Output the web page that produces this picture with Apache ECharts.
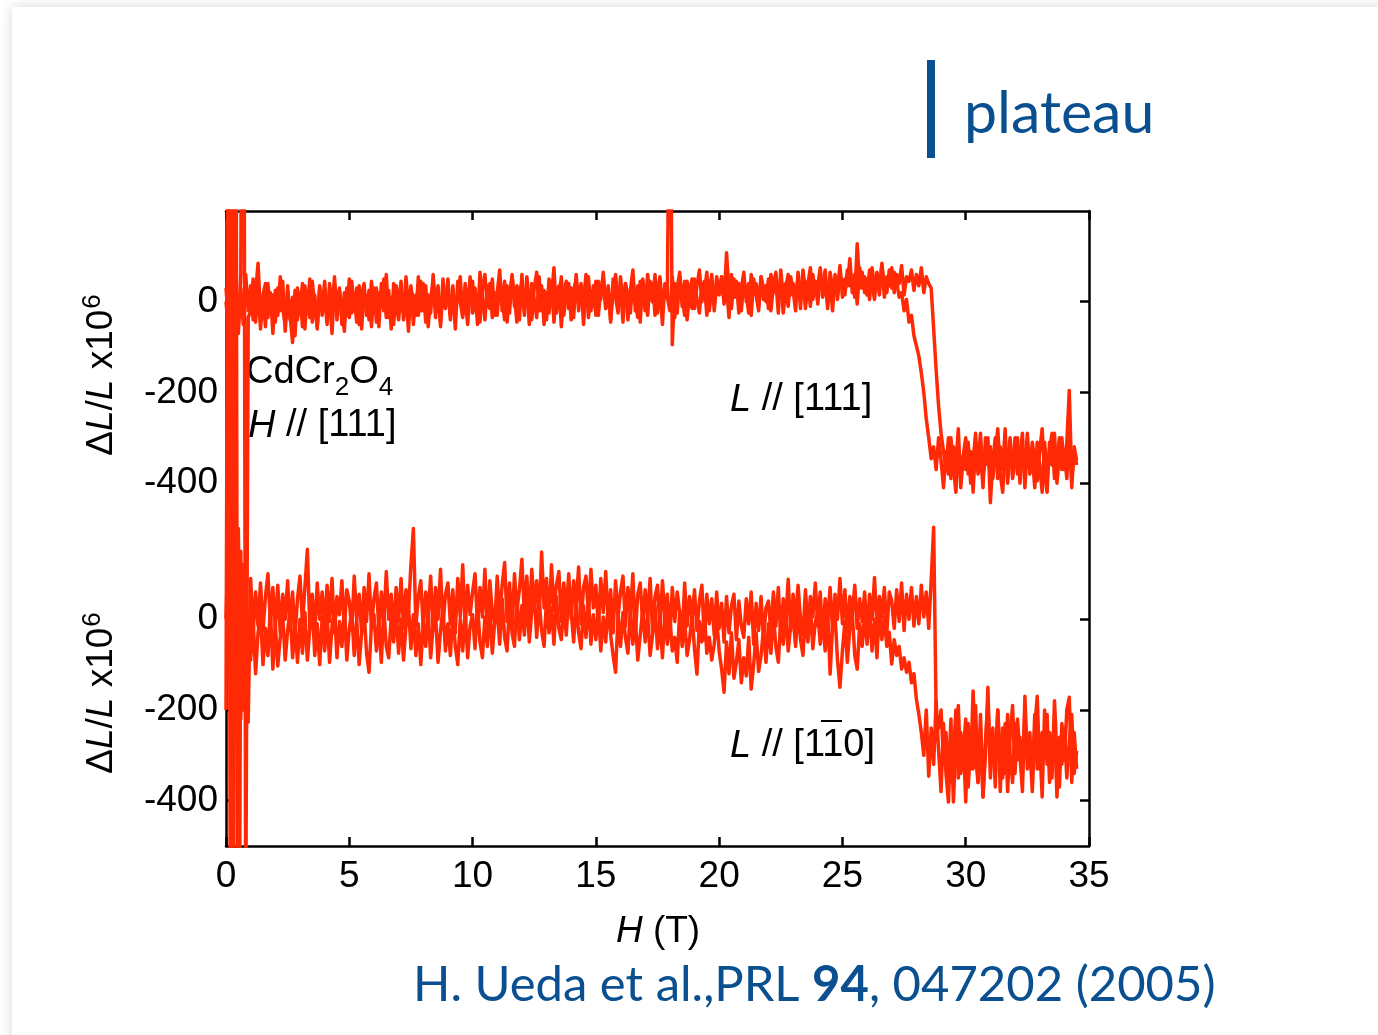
<!DOCTYPE html>
<html>
<head>
<meta charset="utf-8">
<script src="https://cdn.jsdelivr.net/npm/echarts@6/dist/echarts.min.js"></script>
<style>
  html, body { margin: 0; padding: 0; background: #ffffff; overflow: hidden; }
  #slide {
    position: absolute; left: 12px; top: 7px; width: 1400px; height: 1100px;
    background: #ffffff; box-shadow: 0 0 12px rgba(0, 0, 0, 0.16);
  }
  #chart { position: absolute; left: 0; top: 0; width: 1378px; height: 1035px; }
</style>
</head>
<body>
<div id="slide"></div>
<div id="chart"></div>
<script>
// field step of the sampled traces (T); sample i is at H = i * H_STEP
const H_STEP = 0.1
// the L // [111] curve is drawn shifted up by this many units above the L // [1-10] curve
const TOP_OFFSET = 700

// L // [111], sweep with the late drop (~28.6-29.1 T), values in 1e-6
const top111A = [
  0, -60, 1500, -1400, 40, -70, 30, -50, 60, -20,
  35, -40, 20, 85, -30, 10, -55, 40, -25, 15,
  -45, 30, -20, 45, -65, 10, -30, -90, 25, -40,
  20, -55, 35, -15, 50, -45, 15, -60, 30, -20,
  45, -35, 5, -70, 40, -10, 30, -50, 20, -30,
  50, -25, 10, -45, 35, -60, 20, 5, -40, 45,
  -15, 30, -55, 40, -20, 60, -35, 10, -50, 35,
  -5, 45, -40, 20, -65, 30, 5, -30, 55, -20,
  40, -45, 15, -25, 60, -10, 35, -55, 25, -15,
  50, -30, 20, -60, 45, 0, -35, 40, -20, 55,
  -25, 30, -50, 65, 10, -40, 35, -15, 50, -30,
  20, 70, -20, 45, -45, 15, 55, -10, 35, -40,
  60, -15, 30, -50, 40, 5, -35, 55, -20, 25,
  -40, 50, 10, 75, -25, 35, -55, 20, 45, -15,
  30, -35, 60, -5, 40, -50, 25, 55, -20, 35,
  -30, 45, 5, 65, -15, 30, -45, 50, 10, -25,
  55, -10, 40, -40, 25, 70, -20, 35, -45, 50,
  15, -30, 45, 0, 60, -25, 30, -50, 40, 10,
  -20, 55, -35, 30, 65, -10, 45, -40, 20, 50,
  -15, 35, 70, 0, 45, -30, 25, 60, -20, 40,
  15, 55, -5, 35, -35, 60, 10, 45, -25, 30,
  65, 0, 40, -30, 50, 15, -20, 55, 5, 35,
  -15, 60, 20, 45, -25, 70, 10, 40, -10, 55,
  25, -20, 65, 15, 50, -15, 40, 75, 5, 45,
  -5, 55, 30, 70, 0, 45, -20, 60, 25, 80,
  10, 50, 35, 95, 20, 60, -5, 75, 30, 55,
  15, 70, 40, 5, 65, 30, 85, 10, 55, 35,
  75, 20, 60, 40, 80, 15, 55, 45, 70, 25,
  60, 35, 75, 20, 55, 40, 30, -60, -150, -230,
  -290, -330, -370, -300, -390, -320, -360, -280, -410, -340,
  -300, -380, -330, -420, -310, -360, -290, -390, -340, -300,
  -443, -350, -300, -390, -320, -370, -280, -400, -330, -360,
  -300, -380, -340, -290, -410, -320, -370, -310, -350, -395,
  -330, -280, -380, -420, -310, -360, -290, -400, -340, -300,
  -370, -310, -196, -390, -330, -360
]

// L // [111], sweep with the early drop (~27.4-28.5 T)
const top111B = [
  30, -40, 50, -80, 20, -50, 60, 1500, -1400, -35,
  -20, 50, -45, 25, -60, 15, 40, -35, 20, -70,
  25, -30, 55, -15, -50, 35, -40, 10, -75, 30,
  -25, 40, -60, 20, -35, 45, -10, -55, 35, -30,
  15, -50, 40, -20, 55, -40, 25, -15, -65, 30,
  -35, 45, -20, 30, -50, 15, 40, -30, 25, -55,
  30, -45, 20, -10, 50, -35, 25, -60, 40, -5,
  -40, 25, -25, 55, -15, 35, -50, 15, -30, 45,
  -20, 35, -55, 10, 40, -35, 20, -45, 50, -10,
  25, -40, 35, -25, 15, 55, -30, 10, -50, 30,
  45, -20, 15, -45, 30, 60, -10, 40, -35, 20,
  -30, 50, 5, -40, 35, -25, 60, 10, -45, 25,
  40, -30, 55, 0, -40, 30, 65, -20, 35, -50,
  20, -25, 45, -45, 30, 5, 55, -30, 15, 40,
  -40, 25, 50, -20, 35, 0, 60, -35, 20, -10,
  45, -30, 25, 55, -15, 35, -40, 20, 60, -5,
  30, -45, 40, 15, -25, 50, 0, -35, 45, 20,
  -20, 60, 5, 40, -30, 25, 55, -15, 35, 10,
  700, -95, 40, -25, 55, 10, -30, 45, 20, -15,
  50, 5, -25, 40, 15, 65, -20, 30, -5, 55,
  20, 55, 0, 108, 25, -15, 50, 10, 40, -20,
  45, 15, -25, 60, 20, 40, -10, 55, 30, 0,
  50, -20, 35, 65, 5, 45, -25, 30, 60, 15,
  40, 0, 55, -15, 70, 25, 45, -10, 60, 20,
  35, 75, 10, 50, -15, 65, 30, 45, 5, 60,
  40, 15, 70, 35, 55, 10, 128, 30, 65, 20,
  50, 5, 75, 35, 60, 15, 80, 40, 20, 70,
  30, 65, 45, 10, 20, -20, 5, -45, -30, -75,
  -97, -120, -157, -200, -258, -300, -346, -320, -370, -300,
  -350, -410, -330, -380, -300, -360, -420, -320, -390, -340,
  -370, -310, -400, -350, -290, -380, -330, -410, -300, -360,
  -320, -390, -340, -280, -380, -420, -330, -360, -300, -390,
  -350, -300, -400, -330, -370, -290, -380, -340, -410, -310,
  -360, -420, -310, -380, -330, -290, -390, -350, -300, -370,
  -330, -390, -280, -410, -320, -350
]

// L // [1-10], branch that stays up to 28.6 T (with the jump spike)
const low110A = [
  0, 200, -230, 180, 1500, -1500, 150, -200, 120, -227,
  90, -30, 60, -15, 80, -25, 50, 100, -10, 70,
  -20, 75, -30, 55, 0, 85, -25, 60, -35, 45,
  95, -10, 70, 154, -20, 55, -35, 80, 0, 60,
  -15, 75, -5, 90, -30, 50, 10, 85, -20, 65,
  40, -25, 95, 0, 55, -30, 70, -5, 100, -20,
  45, 80, -25, 60, -10, 105, 0, 55, -30, 70,
  -5, 90, -20, 65, 15, 120, 200, -15, 50, 85,
  -20, 60, 10, 95, -25, 70, 0, 110, -15, 55,
  80, -10, 65, -30, 90, 5, 120, -20, 75, 10,
  60, 100, -15, 70, 5, 110, -25, 85, 15, -10,
  95, 0, 75, 125, -5, 80, -20, 100, 20, 65,
  132, 10, 95, -10, 110, 30, 85, 0, 148, 25,
  90, -15, 120, 20, 75, 105, -5, 80, 15, 100,
  0, 85, 30, 115, -10, 70, 95, 10, 110, 25,
  75, -20, 90, 15, 105, -5, 65, -30, 85, 5,
  60, 95, -15, 70, 10, 100, -35, 55, 80, -10,
  65, 0, 90, -30, 50, 75, -20, 85, 5, 55,
  -40, 70, -5, 60, 15, -45, 80, -15, 50, 0,
  65, -25, 40, 75, -45, 55, -10, 45, -35, 60,
  -20, 35, -50, 50, -30, 30, 55, -45, 40, -15,
  -40, 45, -10, 60, -55, 35, -25, 50, -45, 25,
  40, -30, 60, -15, 70, -40, 45, -5, 88, -25,
  55, -10, 75, 0, -35, 65, -20, 50, 5, 80,
  -15, 60, -40, 45, -5, 70, -25, 55, 0, 90,
  -10, 65, -30, 50, 10, 75, -20, 45, -5, 60,
  -35, 55, 0, 92, -15, 50, 5, 70, -30, 60,
  40, -20, 65, -5, 80, -25, 55, 0, 70, -15,
  50, -10, 75, 5, 60, -20, 85, 203, -205, -240,
  -200, -310, -250, -360, -220, -403, -280, -190, -340, -260,
  -403, -230, -330, -158, -300, -360, -210, -392, -270, -180,
  -320, -240, -370, -200, -300, -350, -230, -380, -260, -190,
  -340, -220, -300, -380, -170, -310, -250, -360, -210, -330,
  -270, -392, -200, -320, -250, -350, -180, -300, -370, -230,
  -310, -200, -172, -360, -250, -330
]

// L // [1-10], lower branch with the early drop (~26.9-28.2 T)
const low110B = [
  -200, 1500, -1500, 150, -180, 200, -220, 120, -160, -60,
  -90, 0, -120, -30, 10, -100, -20, -80, 25, -110,
  -10, -103, -40, 10, -90, -25, 20, -85, -15, -95,
  0, -75, 15, -90, -20, 25, -80, -10, -100, 5,
  -70, 10, -95, -15, 20, -85, -5, -60, 25, -90,
  -20, 15, -80, 0, -100, -30, 20, -75, -117, -10,
  10, -70, -5, -95, 25, -60, -85, 5, -50, 20,
  -75, 0, -90, -15, 30, -65, 10, -80, -10, -100,
  -5, -60, 20, -85, -15, 10, -95, -25, 25, -70,
  -10, -80, 15, -60, -100, 0, -70, 20, -85, -15,
  10, -65, 35, -50, -85, 5, -60, 30, -75, -5,
  20, -55, 45, -40, -70, 40, -30, -60, 50, -45,
  30, -35, 55, -50, 15, 60, -40, 40, -25, -60,
  45, -30, 25, -55, 50, -20, -45, 35, -35, 55,
  15, -50, 40, -30, -65, 30, -40, 45, -55, 10,
  -45, 25, -70, 5, -50, 35, -35, -80, -117, 10,
  -60, 15, -40, -75, 25, -55, 5, -90, -35, 20,
  -50, 10, -80, -35, 30, -65, 0, -85, 15, -55,
  5, -70, -40, -95, 20, -60, 0, -80, -45, 10,
  -65, -121, -5, -50, 15, -75, -40, -90, -55, 5,
  -70, -110, -161, -50, -120, -30, -130, -95, -45, -140,
  -85, -125, -40, -154, -100, -30, -115, -80, -20, -95,
  -10, -75, 10, -60, -95, 0, -55, 20, -70, -15,
  5, -60, 25, -45, -80, 10, -50, 30, -65, -5,
  15, -55, 0, -70, 20, -121, -15, 10, -90, -150,
  -70, -5, -95, -20, 15, -80, -110, -10, -60, 10,
  -55, 20, -70, 0, -85, 25, -45, 5, -60, -29,
  -99, -45, -80, -60, -110, -85, -117, -95, -140, -120,
  -176, -210, -250, -300, -200, -346, -240, -320, -180, -290,
  -380, -230, -340, -403, -260, -310, -200, -350, -250, -300,
  -220, -370, -280, -330, -190, -360, -240, -392, -300, -150,
  -350, -260, -310, -200, -380, -240, -340, -210, -300, -360,
  -230, -310, -260, -350, -200, -330, -280, -380, -240, -170,
  -330, -250, -300, -210, -360, -280, -230, -392, -260, -320,
  -240, -350, -270, -210, -340, -290
]

// tick positions (axis units) and the labels printed at them
const yTickValues = [-400, -200, 0, 300, 500, 700]
const yTickLabels = ['-400', '-200', '0', '-400', '-200', '0']
const xTicks = [0, 5, 10, 15, 20, 25, 30, 35]

const RED = '#ff2a05'
const BLUE = '#0a4f8f'
const FONT = '"Liberation Sans", Arial, sans-serif'
const SLIDE_FONT = 'Lato, "Open Sans", sans-serif'

function toPoints (values, offset) {
  return values.map((v, i) => [Math.round(i * H_STEP * 10) / 10, v + offset])
}

const chart = echarts.init(document.getElementById('chart'), null, { renderer: 'canvas' })

const lineSeries = (name, values, offset) => ({
  name: name,
  type: 'line',
  data: toPoints(values, offset),
  showSymbol: false,
  clip: true,
  lineStyle: { color: RED, width: 3.5, join: 'round' },
  itemStyle: { color: RED },
  animation: false
})

const frameLine = { show: true, onZero: false, lineStyle: { color: '#000', width: 2.5 } }
const frameTick = { show: true, inside: true, length: 9, lineStyle: { color: '#000', width: 2.5 } }
const axisText = { color: '#000', fontSize: 37, fontFamily: FONT }

const sup = {
  n: { fontSize: 37, fontFamily: FONT, fill: '#000', verticalAlign: 'bottom' },
  i: { fontSize: 37, fontFamily: FONT, fill: '#000', fontStyle: 'italic', verticalAlign: 'bottom' },
  s: { fontSize: 26, fontFamily: FONT, fill: '#000', verticalAlign: 'bottom', padding: [0, 0, 15, 1] }
}
const note = {
  n: { fontSize: 38, fontFamily: FONT, fill: '#000', verticalAlign: 'bottom' },
  i: { fontSize: 38, fontFamily: FONT, fill: '#000', fontStyle: 'italic', verticalAlign: 'bottom' }
}
const sub = {
  n: { fontSize: 38, fontFamily: FONT, fill: '#000', verticalAlign: 'bottom', padding: [0, 0, 9, 0] },
  b: { fontSize: 26, fontFamily: FONT, fill: '#000', verticalAlign: 'bottom' }
}

const option = {
  animation: false,
  backgroundColor: 'transparent',
  grid: { left: 226, top: 211, width: 863, height: 635, show: false },
  xAxis: [
    {
      type: 'value', min: 0, max: 35, interval: 5, position: 'bottom',
      axisLine: frameLine,
      axisTick: frameTick,
      axisLabel: Object.assign({ margin: 12, customValues: xTicks }, axisText),
      splitLine: { show: false }
    },
    {
      type: 'value', min: 0, max: 35, interval: 5, position: 'top',
      axisLine: frameLine,
      axisTick: frameTick,
      axisLabel: { show: false },
      splitLine: { show: false }
    }
  ],
  yAxis: [
    {
      type: 'value', min: -500, max: 900, position: 'left',
      axisLine: frameLine,
      axisTick: Object.assign({ customValues: yTickValues }, frameTick),
      axisLabel: Object.assign({
        margin: 8,
        customValues: yTickValues,
        formatter: v => yTickLabels[yTickValues.indexOf(v)]
      }, axisText),
      splitLine: { show: false }
    },
    {
      type: 'value', min: -500, max: 900, position: 'right',
      axisLine: frameLine,
      axisTick: Object.assign({ customValues: yTickValues }, frameTick),
      axisLabel: { show: false },
      splitLine: { show: false }
    }
  ],
  series: [
    lineSeries('L // [111] A', top111A, TOP_OFFSET),
    lineSeries('L // [111] B', top111B, TOP_OFFSET),
    lineSeries('L // [1-10] A', low110A, 0),
    lineSeries('L // [1-10] B', low110B, 0)
  ],
  graphic: [
    // slide heading
    { type: 'rect', left: 927, top: 60, shape: { width: 8, height: 98 }, style: { fill: BLUE } },
    { type: 'text', left: 964, top: 84, style: { text: 'plateau', fill: BLUE, fontSize: 59, fontFamily: SLIDE_FONT } },
    // y axis titles
    {
      type: 'text', x: 100, y: 375, rotation: Math.PI / 2,
      style: { text: '{n|Δ}{i|L}{n|/}{i|L}{n| x10}{s|6}', rich: sup, align: 'center', verticalAlign: 'middle' }
    },
    {
      type: 'text', x: 100, y: 693, rotation: Math.PI / 2,
      style: { text: '{n|Δ}{i|L}{n|/}{i|L}{n| x10}{s|6}', rich: sup, align: 'center', verticalAlign: 'middle' }
    },
    // x axis title
    {
      type: 'text', x: 658, y: 932,
      style: { text: '{i|H}{n| (T)}', rich: sup, align: 'center', verticalAlign: 'middle' }
    },
    // annotations
    { type: 'text', left: 246, top: 354, style: { text: '{n|CdCr}{b|2}{n|O}{b|4}', rich: sub } },
    { type: 'text', left: 248, top: 407, style: { text: '{i|H}{n| // [111]}', rich: note } },
    { type: 'text', left: 730, top: 381, style: { text: '{i|L}{n| // [111]}', rich: note } },
    { type: 'text', left: 730, top: 727, style: { text: '{i|L}{n| // [110]}', rich: note } },
    { type: 'line', shape: { x1: 821, y1: 721, x2: 842, y2: 721 }, style: { stroke: '#000', lineWidth: 2 } },
    // reference
    {
      type: 'text', left: 413, top: 961,
      style: {
        text: '{a|H. Ueda et al.,PRL }{b|94}{a|, 047202 (2005)}',
        rich: {
          a: { fontSize: 49, fontFamily: SLIDE_FONT, fill: BLUE },
          b: { fontSize: 49, fontFamily: SLIDE_FONT, fill: BLUE, fontWeight: 'bold' }
        }
      }
    }
  ]
}

chart.setOption(option)
window.addEventListener('resize', () => {
  chart.resize()
})
</script>
</body>
</html>
